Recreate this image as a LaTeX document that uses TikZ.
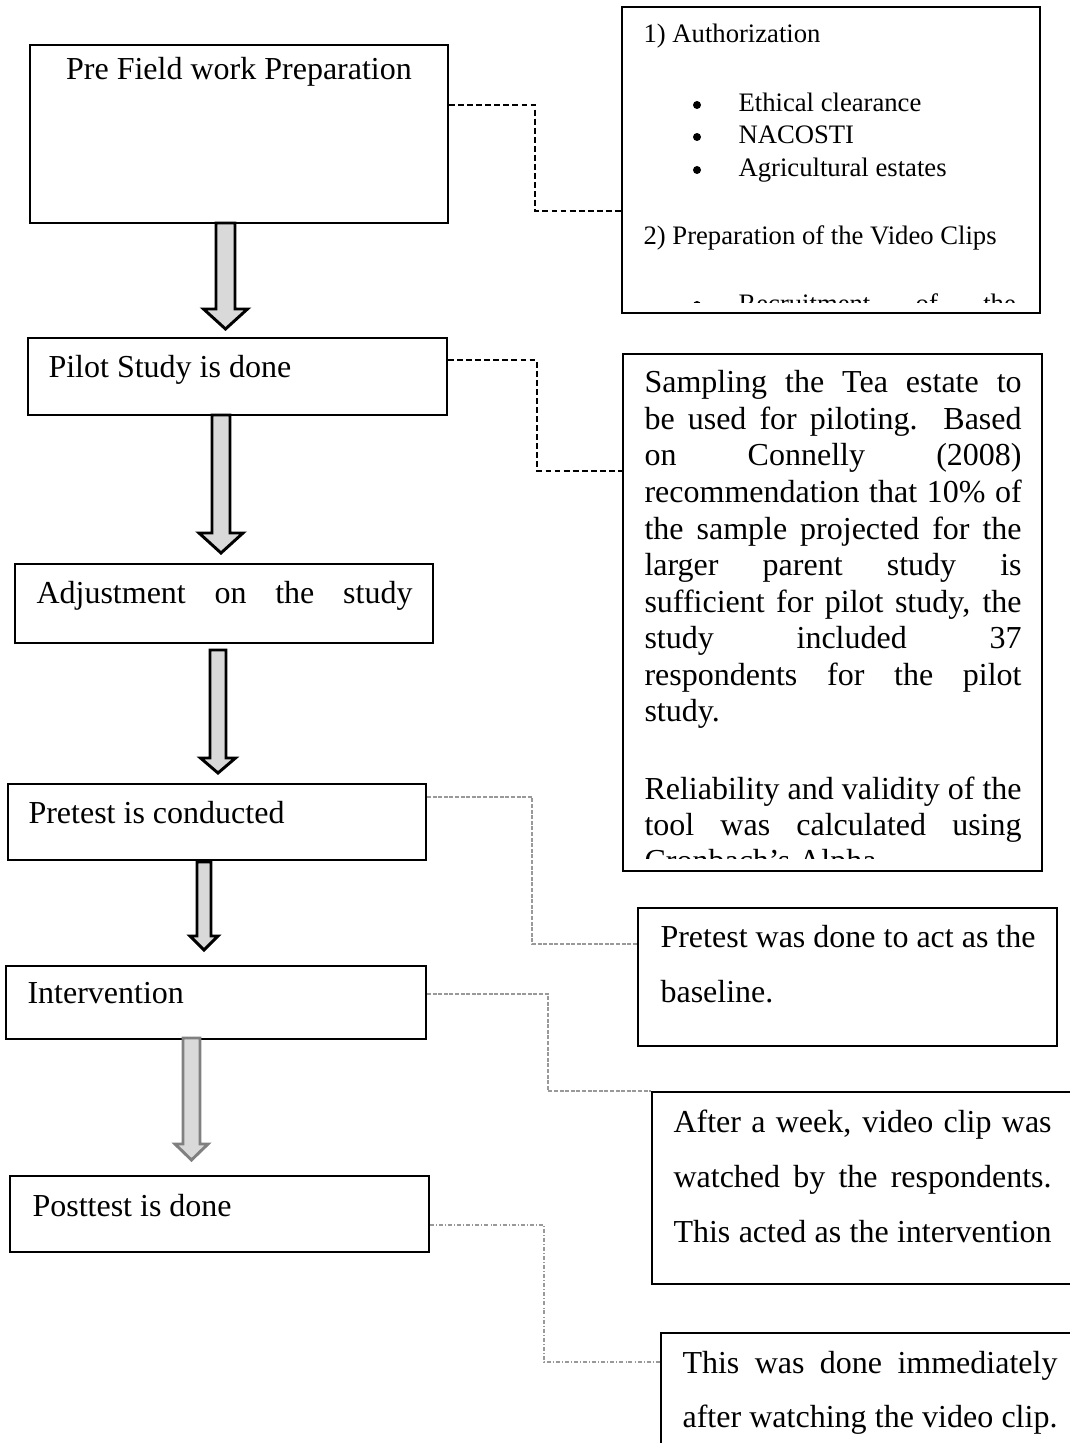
\documentclass[tikz,border=0pt]{standalone}
\usepackage{fontspec}
\setmainfont{Liberation Serif}
\usetikzlibrary{positioning,fit}

\begin{document}
\begin{tikzpicture}[x=0.375pt, y=-0.375pt,
    box/.style={draw, line width=0.75pt, inner sep=0pt},
    txt/.style={anchor=base west, inner sep=0pt, font=\fontsize{12}{13.7}\selectfont},
    small/.style={anchor=base west, inner sep=0pt, font=\fontsize{10}{12}\selectfont},
    dot/.style={circle, fill=black, inner sep=0pt, minimum size=3pt},
    link/.style={black, line width=0.45pt, dash pattern=on 2.2pt off 1.2pt},
    greylink/.style={gray!80, line width=0.4pt, dash pattern=on 1.5pt off 0.6pt},
    dotlink/.style={gray!80, line width=0.4pt, dash pattern=on 1.5pt off 0.8pt on 0.3pt off 0.8pt}]

    \useasboundingbox (0,0) rectangle (1069,1443);

    % Left column of steps
    \node[box, fit={(30,45) (448,223)}] (pre) {};
    \node[txt, anchor=base] (pretxt) at (239,80) {Pre Field work Preparation};

    \node[box, fit={(28,338) (447,415)}] (pilot) {};
    \node[txt] (pilottxt) at (48,377) {Pilot Study is done};

    \node[box, fit={(15,564) (433,643)}] (adjust) {};
    \node[txt] (adjusttxt) at (36,603) {\makebox[141pt][s]{Adjustment on the study}};

    \node[box, fit={(8,784) (426,860)}] (pretest) {};
    \node[txt] (pretesttxt) at (28,823) {Pretest is conducted};

    \node[box, fit={(6,966) (426,1039)}] (interv) {};
    \node[txt] (intervtxt) at (27,1003) {Intervention};

    \node[box, fit={(10,1176) (429,1252)}] (post) {};
    \node[txt] (posttxt) at (32,1216) {Posttest is done};

    % Block arrows between the steps
    \foreach \ax/\ya/\yb/\sh/\hh/\hl/\ac in {225.5/223/329/9.5/22/20/black,
        221/415/553/9/22/20/black, 218/650/773/8/17.5/15/black,
        204/862/950/7/14/14/black, 191.5/1038/1160/8.5/16.5/16/gray}
      \filldraw[fill=gray!30, draw=\ac, line width=1.1pt]
        ({\ax-\sh},\ya) -- ({\ax+\sh},\ya) -- ({\ax+\sh},{\yb-\hl}) -- ({\ax+\hh},{\yb-\hl})
        -- (\ax,\yb) -- ({\ax-\hh},{\yb-\hl}) -- ({\ax-\sh},{\yb-\hl}) -- cycle;

    % Authorization box (text cut at the bottom)
    \begin{scope}
        \clip (622,7) rectangle (1040,303);
        \node[small] (auth1) at (643,43) {1) Authorization};
        \node[dot] (b1) at (697,105) {};
        \node[small] (ethic) at (738,112) {Ethical clearance};
        \node[dot] (b2) at (697,137) {};
        \node[small] (nacosti) at (738,144) {NACOSTI};
        \node[dot] (b3) at (697,170) {};
        \node[small] (estates) at (738,177) {Agricultural estates};
        \node[small] (auth2) at (643,245) {2) Preparation of the Video Clips};
        \node[dot] (b4) at (697,305) {};
        \node[small] (recruit) at (738,313) {\makebox[104pt][s]{Recruitment of the}};
    \end{scope}
    \node[box, fit={(622,7) (1040,313)}] (auth) {};

    % Pilot study box (text cut at the bottom)
    \begin{scope}
        \clip (623,354) rectangle (1042,858);
        \foreach \tealine [count=\i from 0] in {Sampling the Tea estate to,
            be used for piloting. Based, on Connelly (2008),
            recommendation that 10\% of, the sample projected for the,
            larger parent study is, {sufficient for pilot study, the},
            study included 37, respondents for the pilot}
          \node[txt] (tea\i) at (644,{393+36.5*\i}) {\makebox[141.4pt][s]{\tealine}};
        \node[txt] (tea9) at (644,721.5) {study.};
        \node[txt] (rel0) at (644,799) {\makebox[141.4pt][s]{Reliability and validity of the}};
        \node[txt] (rel1) at (644,835) {\makebox[141.4pt][s]{tool was calculated using}};
        \node[txt] (rel2) at (644,871) {Cronbach’s Alpha};
    \end{scope}
    \node[box, fit={(623,354) (1042,871)}] (tea) {};

    % Result boxes
    \node[box, fit={(638,908) (1057,1046)}] (base) {};
    \node[txt] (base1) at (660,947) {Pretest was done to act as the};
    \node[txt] (base2) at (660,1002) {baseline.};

    \node[box, fit={(652,1092) (1090,1284)}] (week) {};
    \foreach \wkline [count=\i from 0] in {{After a week, video clip was},
        watched by the respondents., This acted as the intervention}
      \node[txt] (week\i) at (673,{1132+55*\i}) {\makebox[141.8pt][s]{\wkline}};

    \node[box, fit={(661,1333) (1090,1470)}] (after) {};
    \node[txt] (after0) at (682,1373) {\makebox[140.6pt][s]{This was done immediately}};
    \node[txt] (after1) at (682,1427) {\makebox[140.6pt][s]{after watching the video clip.}};

    % Connectors
    \draw[link] (pre.east |- 0,105) -| (535,211) -- (auth.west |- 0,211);
    \draw[link] (pilot.east |- 0,360) -| (537,471) -- (tea.west |- 0,471);
    \draw[greylink] (pretest.east |- 0,797) -| (532,944) -- (base.west |- 0,944);
    \draw[greylink] (interv.east |- 0,994) -| (548,1091) -- (week.north west);
    \draw[dotlink] (post.east |- 0,1225) -| (544,1362) -- (after.west |- 0,1362);
\end{tikzpicture}
\end{document}
